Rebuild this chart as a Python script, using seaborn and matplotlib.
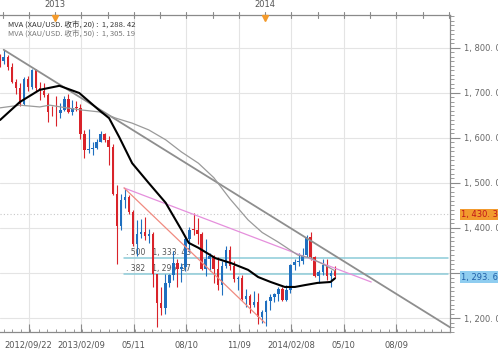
import matplotlib
matplotlib.use("Agg")
import matplotlib.pyplot as plt
import matplotlib.transforms as mtransforms
import pandas as pd
import seaborn as sns

# === Weekly XAU/USD candles (bar index 0 = week of 2012/10/05) ===
week_idx = list(range(-1, 83))
opens = [1775, 1772, 1780, 1757, 1724, 1712, 1676, 1731, 1713, 1751, 1711, 1704, 1696, 1657,
         1657, 1656, 1662, 1687, 1658, 1667, 1666, 1609, 1573, 1576, 1577, 1592, 1608, 1596,
         1580, 1476, 1405, 1462, 1469, 1436, 1364, 1386, 1392, 1383, 1387, 1297, 1234, 1223,
         1277, 1295, 1322, 1310, 1313, 1375, 1396, 1395, 1387, 1308, 1332, 1337, 1310, 1273,
         1315, 1352, 1315, 1287, 1288, 1243, 1250, 1230, 1236, 1203, 1213, 1237, 1247, 1253,
         1264, 1240, 1262, 1318, 1324, 1326, 1340, 1379, 1335, 1294, 1303, 1318, 1294, 1306]
highs = [1787, 1796, 1785, 1767, 1730, 1722, 1736, 1738, 1754, 1754, 1724, 1722, 1699, 1670,
         1694, 1678, 1694, 1697, 1684, 1682, 1675, 1617, 1619, 1590, 1597, 1616, 1611, 1605,
         1587, 1495, 1475, 1487, 1474, 1440, 1417, 1420, 1424, 1397, 1392, 1298, 1268, 1297,
         1298, 1348, 1331, 1322, 1379, 1402, 1434, 1423, 1391, 1375, 1345, 1340, 1336, 1326,
         1361, 1361, 1326, 1294, 1296, 1265, 1254, 1261, 1256, 1217, 1240, 1254, 1256, 1270,
         1268, 1273, 1320, 1332, 1345, 1355, 1384, 1392, 1338, 1306, 1332, 1331, 1306, 1316]
lows = [1758, 1765, 1750, 1722, 1697, 1672, 1674, 1705, 1708, 1705, 1684, 1692, 1635, 1648,
        1626, 1645, 1660, 1655, 1651, 1661, 1598, 1555, 1566, 1562, 1575, 1590, 1592, 1539,
        1474, 1321, 1395, 1444, 1430, 1359, 1338, 1377, 1374, 1366, 1268, 1180, 1207, 1210,
        1270, 1285, 1270, 1280, 1305, 1346, 1384, 1365, 1307, 1293, 1304, 1277, 1262, 1251,
        1312, 1306, 1281, 1262, 1241, 1225, 1211, 1225, 1186, 1190, 1182, 1217, 1236, 1237,
        1238, 1238, 1255, 1306, 1315, 1321, 1336, 1328, 1291, 1277, 1296, 1284, 1268, 1290]
closes = [1770, 1780, 1757, 1724, 1712, 1676, 1731, 1713, 1751, 1711, 1704, 1696, 1657, 1656,
          1656, 1662, 1687, 1658, 1667, 1666, 1609, 1573, 1576, 1577, 1592, 1608, 1596, 1580,
          1476, 1405, 1462, 1469, 1436, 1364, 1386, 1392, 1383, 1387, 1297, 1234, 1223, 1277,
          1295, 1322, 1310, 1313, 1375, 1396, 1395, 1387, 1308, 1332, 1337, 1310, 1273, 1315,
          1352, 1315, 1287, 1288, 1243, 1250, 1230, 1236, 1203, 1213, 1237, 1247, 1253, 1264,
          1240, 1262, 1318, 1324, 1326, 1340, 1379, 1335, 1294, 1303, 1318, 1294, 1301, 1294]

# moving averages
ma20_x = [-0.9, 4.0, 8.9, 13.8, 18.7, 23.6, 26.1, 28.6, 31.8, 35.9, 40.1, 44.0, 45.8, 48.2,
          52.4, 56.3, 60.5, 63.0, 66.1, 69.6, 72.1, 74.5, 77.7, 80.9, 82.0]
ma20_y = [1640, 1680, 1707, 1716, 1700, 1662, 1644, 1602, 1544, 1500, 1456, 1396, 1367, 1356,
          1333, 1322, 1307, 1291, 1280, 1269, 1269, 1273, 1278, 1280, 1288]
ma50_x = [-0.9, 4.0, 8.9, 11.4, 15.5, 19.5, 23.6, 27.8, 31.8, 35.9, 40.1, 44.0, 48.2, 52.0,
          56.0, 60.5, 64.0, 67.9, 72.8, 76.0, 79.0, 82.0]
ma50_y = [1667, 1673, 1669, 1673, 1667, 1662, 1658, 1644, 1633, 1618, 1596, 1569, 1544, 1512,
          1465, 1418, 1390, 1369, 1340, 1333, 1320, 1305]

# drawn trend lines / fibonacci
trend_x, trend_y = [0, 112], [1796, 1171]
pink_x, pink_y = [29.8, 91.0], [1489, 1280]
red_x, red_y = [29.8, 64.7], [1489, 1189]
fib_levels = [1333.43, 1296.97]
fib_labels = [". 500   1, 333. 43", ". 382   1, 296. 97"]
last_label, last_price = "1, 293. 65", 1291
box_label, box_price = "1, 430. 34", 1430.34

date_ticks = [6.2, 19.2, 32.2, 45.2, 58.2, 71.2, 84.2, 97.2]
date_labels = ["2012/09/22", "2013/02/09", "05/11", "08/10", "11/09", "2014/02/08", "05/10", "08/09"]
year_pos = [12.7, 64.7]
year_labels = ["2013", "2014"]
price_ticks = [1200, 1300, 1400, 1500, 1600, 1700, 1800]
price_labels = ["1, 200. 00", "", "1, 400. 00", "1, 500. 00", "1, 600. 00", "1, 700. 00", "1, 800. 00"]

df = pd.DataFrame({"i": week_idx, "o": opens, "h": highs, "l": lows, "c": closes})
df["up"] = df["c"] >= df["o"]

sns.set_style("white")
plt.rcParams['font.family'] = ['DejaVu Sans']

fig = plt.figure(figsize=(4.98, 3.54), dpi=100)
ax = fig.add_axes([0, 1 - 332 / 354, 450 / 498, 317 / 354])
ax.set_xlim(-0.92, 109.64)
ax.set_ylim(1168.9, 1873.3)

# grid
for t in date_ticks:
    ax.axvline(t, color="#e4e4e4", lw=0.8, zorder=0)
for p in price_ticks:
    ax.axhline(p, color="#e4e4e4", lw=0.8, zorder=0)
ax.axhline(box_price, color="#c8c8c8", lw=0.8, ls=(0, (1, 2)), zorder=0)

# candles
red, blue = "#d9232a", "#1f6fbf"
cols = [blue if u else red for u in df["up"]]
ax.vlines(df["i"], df["l"], df["h"], colors=cols, lw=0.8, zorder=3)
body = (df["c"] - df["o"]).where((df["c"] - df["o"]).abs() > 1.5, 1.5)
ax.bar(df["i"], body, bottom=df["o"], width=0.62, color=cols, lw=0, zorder=3)

# fib lines + labels
for lv, lab in zip(fib_levels, fib_labels):
    ax.plot([29.8, 110], [lv, lv], color="#8ccbd8", lw=1.1, zorder=2)
    ax.text(30.2, lv + 3, lab, fontsize=5.5, color="#555555", va="bottom", zorder=2)

# trend lines
ax.plot(trend_x, trend_y, color="#8e8e8e", lw=1.3, zorder=4)
ax.plot(pink_x, pink_y, color="#e58fdc", lw=0.9, zorder=4)
ax.plot(red_x, red_y, color="#f08a80", lw=0.9, zorder=4)

# moving averages
sns.lineplot(x=ma50_x, y=ma50_y, ax=ax, color="#9a9a9a", lw=0.9, zorder=5, sort=False)
sns.lineplot(x=ma20_x, y=ma20_y, ax=ax, color="black", lw=1.5, zorder=6, sort=False)

# axes styling
ax.spines["left"].set_visible(False)
for s in ["top", "bottom", "right"]:
    ax.spines[s].set_color("#8a8a8a")
    ax.spines[s].set_linewidth(0.9)

ax.yaxis.tick_right()
ax.set_yticks(price_ticks)
ax.set_yticklabels(price_labels)
ax.set_yticks(range(1170, 1880, 10), minor=True)
ax.tick_params(axis="y", which="major", direction="out", length=7, width=0.8,
               color="#8a8a8a", labelsize=6, labelcolor="#666666", pad=3)
ax.tick_params(axis="y", which="minor", direction="out", length=3, width=0.6, color="#8a8a8a")

ax.set_xticks(date_ticks)
ax.set_xticklabels(date_labels)
ax.set_xticks([k * 13 / 6 for k in range(0, 52)], minor=True)
ax.tick_params(axis="x", which="major", direction="in", length=6, width=0.8,
               color="#8a8a8a", labelsize=6, labelcolor="#555555", pad=6,
               top=False, bottom=True)
ax.tick_params(axis="x", which="minor", direction="in", length=2.5, width=0.6,
               color="#8a8a8a", top=False, bottom=True)

# top axis ticks + year markers
top = mtransforms.blended_transform_factory(ax.transData, ax.transAxes)
for k in range(18):
    ax.plot([-0.3 + 6.5 * k] * 2, [0.99, 1.008], transform=top, color="#8a8a8a",
            lw=0.8, clip_on=False)
for xp, yl in zip(year_pos, year_labels):
    ax.plot(xp, 0.992, marker="v", color="#f39a2b", ms=4.5, transform=top, clip_on=False, zorder=7)
    ax.text(xp, 1.02, yl, transform=top, fontsize=6, color="#555555", ha="center", va="bottom")

# price boxes on right
right = mtransforms.blended_transform_factory(ax.transAxes, ax.transData)
ax.text(1.025, box_price, box_label, transform=right, fontsize=6, color="#c0141a",
        va="center", ha="left", bbox=dict(boxstyle="square,pad=0.15", fc="#f29a2e", ec="none"))
ax.text(1.025, last_price, last_label, transform=right, fontsize=6, color="#1f5fa8",
        va="center", ha="left", bbox=dict(boxstyle="square,pad=0.15", fc="#8fcdf0", ec="none"))

# MA legend text
cjk = ['Noto Sans CJK TC', 'DejaVu Sans']
fig.text(8 / 498, 1 - 25 / 354, "MVA (XAU/USD. 收市, 20) :  1, 288. 42", family=cjk,
         fontsize=5.5, color="#333333", va="center")
fig.text(8 / 498, 1 - 34 / 354, "MVA (XAU/USD. 收市, 50) :  1, 305. 19", family=cjk,
         fontsize=5.5, color="#777777", va="center")

ax.set_xlabel("")
ax.set_ylabel("")
fig.savefig("out.png", dpi=100, facecolor="white")
